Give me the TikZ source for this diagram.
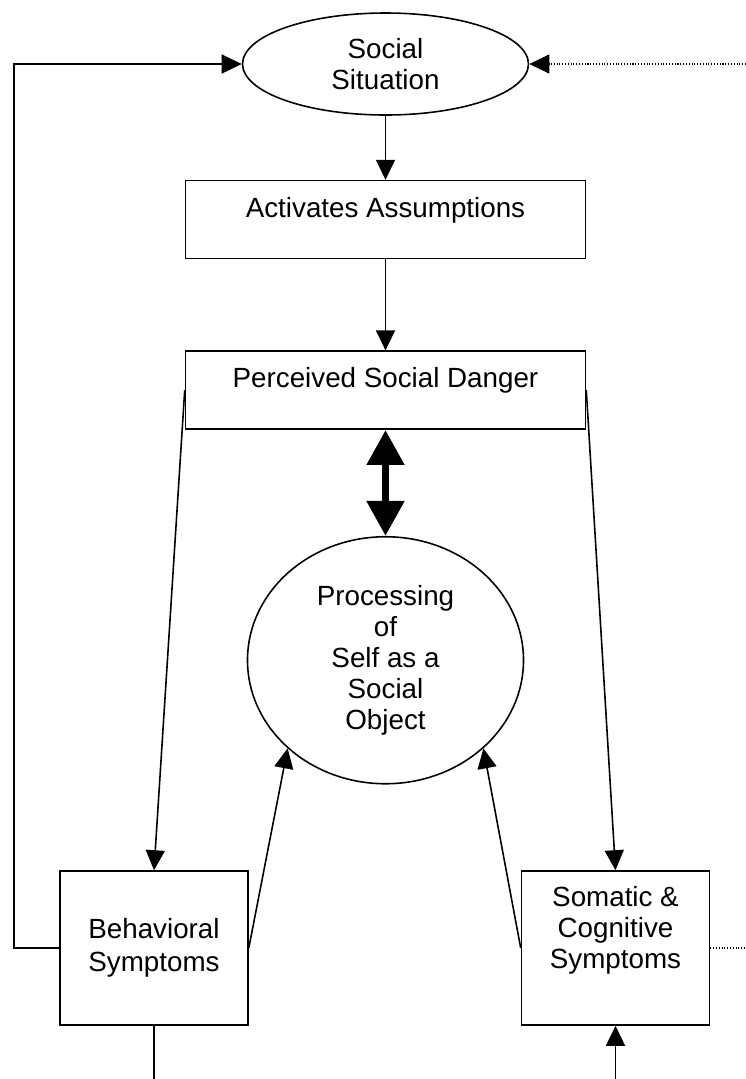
\documentclass[tikz,border=0pt]{standalone}
\usepackage{fontspec}
\setmainfont{Liberation Sans}
\usetikzlibrary{positioning,shapes.geometric,arrows.meta}

\begin{document}
\begin{tikzpicture}[-,>={Triangle[width=0.38cm,length=0.4cm]},line width=0.9pt,
    font=\fontsize{15.8}{17.6}\selectfont,
    oval node/.style={ellipse,draw,inner sep=0pt,align=center},
    box node/.style={rectangle,draw,minimum width=8cm,inner sep=0pt,text height=0.73cm,text depth=0.83cm},
    sym node/.style={rectangle,draw,minimum width=3.76cm,minimum height=3.08cm,inner sep=0pt,align=center},
    big arrow/.style={<->,line width=4.5pt,>={Triangle[width=0.72cm,length=0.7cm]}},
    dot line/.style={densely dotted,line width=0.6pt}]

                \useasboundingbox (0,0) rectangle (14.92,-21.58);

                \node[oval node, minimum width=5.72cm, minimum height=2.04cm] (sit) at (7.71,-1.28) {Social\\Situation};
                \node[box node] (assum) [below=1.28cm of sit] {Activates Assumptions};
                \node[box node] (danger) [below=1.82cm of assum] {Perceived Social Danger};
                \node[oval node, minimum width=5.52cm, minimum height=4.94cm] (self) [below=2.12cm of danger] {Processing\\of\\Self as a\\Social\\Object};

                \node[sym node] (behav) at (3.08,-18.96) {Behavioral\\[1pt]Symptoms};
                \node[sym node, text height=1.94cm, text depth=1.14cm] (somat) at (12.31,-18.96) {Somatic \&\\Cognitive\\Symptoms};

                % free ends at the page edges
                \coordinate (loop) at (0.28,-1.28);
                \coordinate (topin) at (14.92,-1.28);
                \coordinate (somout) at (14.92,-18.96);
                \coordinate (behout) at (3.08,-21.58);
                \coordinate (somin) at (12.31,-21.58);

                \draw[->] (sit) to (assum);
                \draw[->] (assum) to (danger);
                \draw[big arrow] (danger) to (self);

                \draw[->] (danger.west) to (behav.north);
                \draw[->] (danger.east) to (somat.north);
                \draw[->] (behav.east) to (self.222);
                \draw[->] (somat.west) to (self.318);

                \draw[->] (behav.west) -| (loop) to (sit.west);
                \draw[->, dot line] (topin) to (sit.east);
                \draw[dot line] (somat.east) to (somout);

                \draw (behav.south) to (behout);
                \draw[->] (somin) to (somat.south);

                ;
            \end{tikzpicture}
\end{document}
